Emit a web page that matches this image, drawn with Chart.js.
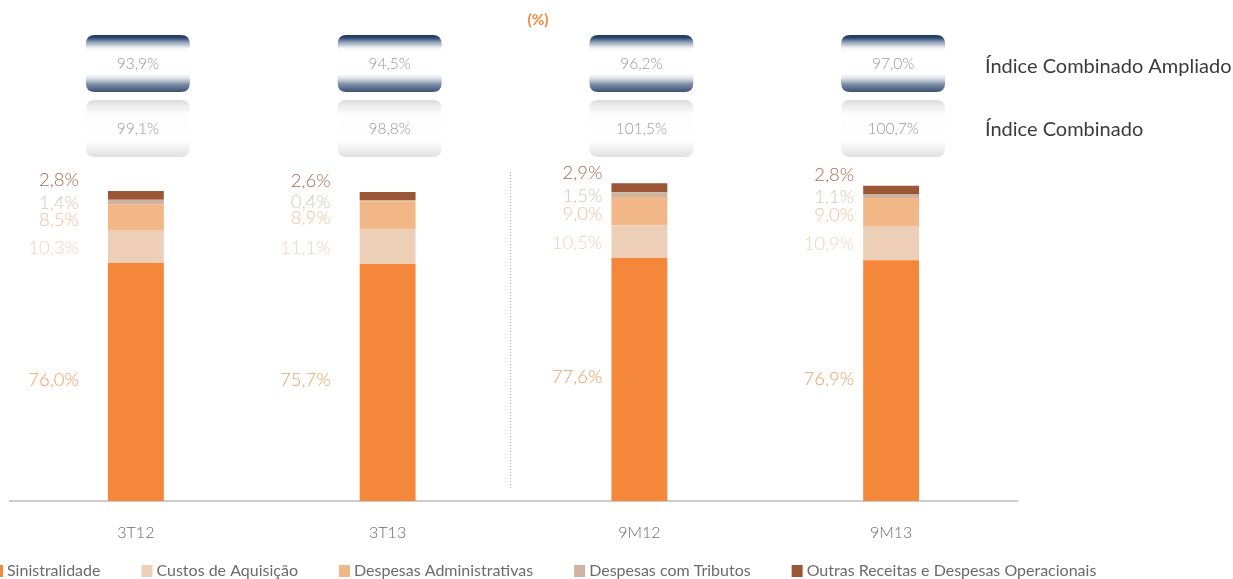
<!DOCTYPE html>
<html>
<head>
<meta charset="utf-8">
<script src="https://cdn.jsdelivr.net/npm/chart.js@4/dist/chart.umd.min.js"></script>
<style>
  html, body { margin: 0; padding: 0; background: #ffffff; }
  #wrap { width: 1233px; height: 579px; position: relative; }
</style>
</head>
<body>
<div id="wrap"><canvas id="c" width="1233" height="579"></canvas></div>
<script>
// ---- data ----
const categories = ['3T12', '3T13', '9M12', '9M13'];
const sinistralidade = [76.0, 75.7, 77.6, 76.9];
const custosAquisicao = [10.3, 11.1, 10.5, 10.9];
const despesasAdministrativas = [8.5, 8.9, 9.0, 9.0];
const despesasTributos = [1.4, 0.4, 1.5, 1.1];
const outrasReceitas = [2.8, 2.6, 2.9, 2.8];
const indiceCombinadoAmpliado = [93.9, 94.5, 96.2, 97.0];
const indiceCombinado = [99.1, 98.8, 101.5, 100.7];
const seriesNames = ['Sinistralidade', 'Custos de Aquisição', 'Despesas Administrativas', 'Despesas com Tributos', 'Outras Receitas e Despesas Operacionais'];

// ---- styles ----
const FONT = "'Lato', 'Open Sans', sans-serif";
const barColors = ['#F5873A', '#EDCEB7', '#F2B787', '#CDB4A2', '#9B5636'];
const labelColors = ['#F59D5E', '#F1D3C0', '#F3C29C', '#D8C9BD', '#A9694D'];
const labelNudge = [-2, 1, 3, 1, -15];
const labelGap = [29, 29, 9, 9];

const fmt = v => v.toFixed(1).replace('.', ',') + '%';

function roundRect(ctx, x, y, w, h, r) {
  ctx.beginPath();
  ctx.moveTo(x + r, y);
  ctx.lineTo(x + w - r, y);
  ctx.quadraticCurveTo(x + w, y, x + w, y + r);
  ctx.lineTo(x + w, y + h - r);
  ctx.quadraticCurveTo(x + w, y + h, x + w - r, y + h);
  ctx.lineTo(x + r, y + h);
  ctx.quadraticCurveTo(x, y + h, x, y + h - r);
  ctx.lineTo(x, y + r);
  ctx.quadraticCurveTo(x, y, x + r, y);
  ctx.closePath();
}

const decorPlugin = {
  id: 'decor',
  afterDatasetsDraw(chart) {
    const ctx = chart.ctx;
    const xs = chart.scales.x;
    ctx.save();
    // segment labels
    chart.data.datasets.forEach((ds, di) => {
      const meta = chart.getDatasetMeta(di);
      meta.data.forEach((bar, i) => {
        const p = bar.getProps(['x', 'y', 'base', 'width'], true);
        const yMid = (p.y + p.base) / 2 + labelNudge[di];
        const xr = p.x - p.width / 2 - labelGap[i];
        ctx.font = '300 18.5px ' + FONT;
        ctx.fillStyle = labelColors[di];
        ctx.textAlign = 'right';
        ctx.textBaseline = 'middle';
        ctx.fillText(fmt(ds.data[i]), xr, yMid);
      });
    });

    // dotted separator between 3T13 and 9M12
    const sepX = Math.round((xs.getPixelForValue(1) + xs.getPixelForValue(2)) / 2) - 4 + 0.5;
    ctx.strokeStyle = '#a8a8a8';
    ctx.lineWidth = 1;
    ctx.setLineDash([1, 2]);
    ctx.beginPath();
    ctx.moveTo(sepX, 172);
    ctx.lineTo(sepX, 488);
    ctx.stroke();
    ctx.setLineDash([]);

    // index boxes
    categories.forEach((c, i) => {
      const cx = xs.getPixelForValue(i) + 2;
      const w = 104, h = 57;
      const x0 = cx - w / 2;
      // top box (navy)
      let y0 = 35;
      let g = ctx.createLinearGradient(0, y0, 0, y0 + h);
      g.addColorStop(0, '#1b355d');
      g.addColorStop(0.05, '#2e4870');
      g.addColorStop(0.13, '#95a3b8');
      g.addColorStop(0.23, '#f5f6f8');
      g.addColorStop(0.3, '#ffffff');
      g.addColorStop(0.68, '#ffffff');
      g.addColorStop(0.76, '#dde2e9');
      g.addColorStop(0.87, '#7b8ba5');
      g.addColorStop(1, '#3a5073');
      roundRect(ctx, x0, y0, w, h, 9);
      ctx.fillStyle = g;
      ctx.fill();
      ctx.font = '300 15.5px ' + FONT;
      ctx.fillStyle = '#9a9a9a';
      ctx.textAlign = 'center';
      ctx.textBaseline = 'middle';
      ctx.fillText(fmt(indiceCombinadoAmpliado[i]), cx, y0 + 29);
      // bottom box (grey)
      y0 = 100;
      g = ctx.createLinearGradient(0, y0, 0, y0 + h);
      g.addColorStop(0, '#dadada');
      g.addColorStop(0.1, '#ececec');
      g.addColorStop(0.25, '#fdfdfd');
      g.addColorStop(0.7, '#ffffff');
      g.addColorStop(0.85, '#f1f1f1');
      g.addColorStop(1, '#e0e0e0');
      roundRect(ctx, x0, y0, w, h, 9);
      ctx.fillStyle = g;
      ctx.fill();
      ctx.fillStyle = '#9a9a9a';
      ctx.fillText(fmt(indiceCombinado[i]), cx, y0 + 29);
    });

    // right side labels
    ctx.font = '20px ' + FONT;
    ctx.fillStyle = '#3b3b3b';
    ctx.textAlign = 'left';
    ctx.textBaseline = 'middle';
    ctx.fillText('Índice Combinado Ampliado', 985, 67);
    ctx.fillText('Índice Combinado', 985, 130);

    // unit
    ctx.font = 'bold 15.5px ' + FONT;
    ctx.fillStyle = '#F5873A';
    ctx.textAlign = 'center';
    ctx.fillText('(%)', 538, 20);

    // legend
    ctx.font = '16px ' + FONT;
    ctx.textBaseline = 'middle';
    ctx.textAlign = 'left';
    let lx = -8;
    const ly = 571;
    seriesNames.forEach((name, k) => {
      ctx.fillStyle = barColors[k];
      ctx.fillRect(lx, ly - 6, 11, 12);
      ctx.fillStyle = '#6b6b6b';
      ctx.fillText(name, lx + 15, ly);
      lx = lx + 15 + ctx.measureText(name).width + 41;
    });
    ctx.restore();
  }
};

const datasetsArr = [sinistralidade, custosAquisicao, despesasAdministrativas, despesasTributos, outrasReceitas];

new Chart(document.getElementById('c'), {
  type: 'bar',
  data: {
    labels: categories,
    datasets: datasetsArr.map((arr, k) => ({
      label: seriesNames[k],
      data: arr,
      backgroundColor: barColors[k],
      borderWidth: 0,
      barPercentage: 0.222,
      categoryPercentage: 1.0
    }))
  },
  options: {
    responsive: false,
    animation: false,
    layout: { padding: { left: 10, right: 216, top: 0, bottom: 0 } },
    plugins: { legend: { display: false }, tooltip: { enabled: false }, title: { display: false } },
    scales: {
      x: {
        stacked: true,
        grid: { display: false, drawTicks: false },
        border: { display: true, color: '#cccccc', width: 2 },
        ticks: { color: '#6a6a6a', font: { size: 16, family: FONT, weight: '300' }, padding: 22 },
        afterFit: s => { s.height = 78; }
      },
      y: { stacked: true, display: false, min: 0, max: 160 }
    }
  },
  plugins: [decorPlugin]
});
</script>
</body>
</html>
